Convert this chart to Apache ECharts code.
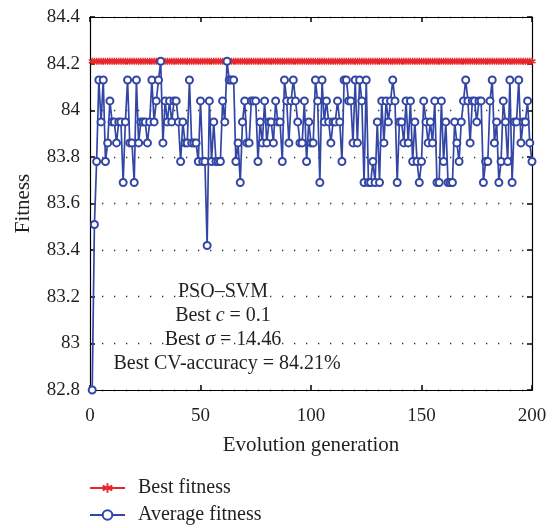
<!DOCTYPE html>
<html>
<head>
<meta charset="utf-8">
<script src="https://cdn.jsdelivr.net/npm/echarts@6/dist/echarts.min.js"></script>
<style>
  html, body { margin: 0; padding: 0; background: #fff; }
  #chart { width: 552px; height: 528px; }
</style>
</head>
<body>
<div id="chart"></div>
<script>
// Generations 1..200
const generations = Array.from({ length: 200 }, (_, i) => i + 1);

// Best fitness per generation (constant after the first generation)
const bestFitness = generations.map(() => 84.21);

// Average fitness per generation
const averageFitness = [
  82.80, 83.51, 83.78, 84.13, 83.95, 84.13, 83.78, 83.86, 84.04, 83.95,
  83.95, 83.86, 83.95, 83.95, 83.69, 83.95, 84.13, 83.86, 83.86, 83.69,
  84.13, 83.86, 83.95, 83.95, 83.95, 83.86, 83.95, 84.13, 83.95, 84.04,
  84.13, 84.21, 83.86, 84.04, 83.95, 84.04, 83.95, 84.04, 84.04, 83.95,
  83.78, 83.95, 83.86, 83.86, 84.13, 83.86, 83.86, 83.86, 83.78, 84.04,
  83.78, 83.78, 83.42, 84.04, 83.78, 83.95, 83.78, 83.78, 83.78, 84.04,
  83.95, 84.21, 84.13, 84.13, 84.13, 83.78, 83.86, 83.69, 83.95, 84.04,
  83.86, 83.86, 84.04, 84.04, 84.04, 83.78, 83.95, 83.86, 84.04, 83.86,
  83.95, 83.95, 83.86, 84.04, 83.95, 83.95, 83.78, 84.13, 84.04, 83.86,
  84.04, 84.13, 84.04, 83.95, 83.86, 83.86, 84.04, 83.78, 83.95, 83.86,
  83.86, 84.13, 84.04, 83.69, 84.13, 83.95, 84.04, 83.95, 83.86, 83.95,
  83.95, 84.04, 83.95, 83.78, 84.13, 84.13, 84.04, 84.04, 83.86, 84.13,
  83.86, 84.13, 84.04, 83.69, 84.13, 83.69, 83.69, 83.78, 83.69, 83.95,
  83.69, 84.04, 83.86, 84.04, 83.95, 84.04, 84.13, 84.04, 83.69, 83.95,
  83.95, 83.86, 84.04, 83.86, 84.04, 83.78, 83.95, 83.78, 83.69, 83.78,
  84.04, 83.95, 83.86, 83.95, 83.86, 84.04, 83.69, 83.69, 84.04, 83.78,
  83.95, 83.69, 83.69, 83.69, 83.95, 83.86, 83.78, 83.95, 84.04, 84.13,
  84.04, 83.86, 84.04, 84.04, 83.95, 84.04, 84.04, 83.69, 83.78, 83.78,
  84.04, 84.13, 83.86, 83.95, 83.69, 83.78, 84.04, 83.95, 83.78, 84.13,
  83.69, 83.95, 83.95, 84.13, 83.86, 83.95, 83.95, 84.04, 83.86, 83.78
];

const xTicks = [0, 50, 100, 150, 200];
const yTicks = [82.8, 83, 83.2, 83.4, 83.6, 83.8, 84, 84.2, 84.4];

const serif = '"Liberation Serif", "DejaVu Serif", serif';
const INK = '#231f20';
const RED = '#e8262b';
const BLUE = '#3346a6';
const asterisk = 'path://M0,-5L0,5M-4.33,-2.5L4.33,2.5M-4.33,2.5L4.33,-2.5';

const chart = echarts.init(document.getElementById('chart'), null, { renderer: 'canvas' });

const baseX = {
  type: 'value', min: xTicks[0], max: xTicks[xTicks.length - 1], interval: 50,
  axisLine: { show: true, onZero: false, lineStyle: { color: '#000', width: 1.2 } },
  axisTick: { show: true, inside: true, length: 5, lineStyle: { color: '#000', width: 1.5 } },
  splitLine: { show: false }
};
const baseY = {
  type: 'value', min: yTicks[0], max: yTicks[yTicks.length - 1], interval: 0.2,
  axisLine: { show: true, onZero: false, lineStyle: { color: '#000', width: 1.2 } },
  axisTick: { show: true, inside: true, length: 5, lineStyle: { color: '#000', width: 1.5 } }
};

const italic = { fontFamily: serif, fontSize: 20, fontStyle: 'italic', fill: INK };
function note(x, y, text) {
  return {
    type: 'text', x: x, y: y, z: 10,
    style: { text: text, font: '20px ' + serif, fill: INK, align: 'center', verticalAlign: 'middle', rich: { i: italic } }
  };
}

chart.setOption({
  animation: false,
  backgroundColor: '#fff',
  grid: { left: 90, right: 20, top: 17, bottom: 138, containLabel: false, outerBoundsMode: 'none' },
  xAxis: [
    Object.assign({}, baseX, {
      position: 'bottom',
      name: 'Evolution generation', nameLocation: 'middle', nameGap: 45,
      nameTextStyle: { fontFamily: serif, fontSize: 21, color: INK },
      axisLabel: { fontFamily: serif, fontSize: 19, color: INK, margin: 17 }
    }),
    Object.assign({}, baseX, { position: 'top', axisLabel: { show: false } })
  ],
  yAxis: [
    Object.assign({}, baseY, {
      position: 'left',
      name: 'Fitness', nameLocation: 'middle', nameGap: 56, nameRotate: 90,
      nameTextStyle: { fontFamily: serif, fontSize: 21, color: INK },
      axisLabel: { fontFamily: serif, fontSize: 19, color: INK, margin: 10 },
      splitLine: { show: true, lineStyle: { color: '#333', width: 1.3, type: [1.3, 10.7] } }
    }),
    Object.assign({}, baseY, { position: 'right', axisLabel: { show: false }, splitLine: { show: false } })
  ],
  legend: {
    orient: 'vertical', left: 89, top: 478, padding: 0, itemGap: 7,
    itemWidth: 35, itemHeight: 12,
    textStyle: { fontFamily: serif, fontSize: 20, color: INK, padding: [0, 0, 0, 8] },
    data: ['Best fitness', 'Average fitness']
  },
  series: [
    {
      name: 'Best fitness', type: 'line', z: 3,
      data: generations.map((g, i) => [g, bestFitness[i]]),
      symbol: asterisk, symbolSize: 7,
      itemStyle: { color: RED, borderColor: RED, borderWidth: 1.4 },
      lineStyle: { color: RED, width: 2.5 }
    },
    {
      name: 'Average fitness', type: 'line', z: 4,
      data: generations.map((g, i) => [g, averageFitness[i]]),
      symbol: 'emptyCircle', symbolSize: 7,
      itemStyle: { color: BLUE, borderColor: BLUE, borderWidth: 1.5 },
      lineStyle: { color: BLUE, width: 1.7 }
    }
  ],
  graphic: [
    note(223, 292, 'PSO–SVM'),
    note(223, 316, 'Best {i|c} = 0.1'),
    note(223, 340, 'Best {i|σ} = 14.46'),
    note(227, 364, 'Best CV-accuracy = 84.21%')
  ]
});
</script>
</body>
</html>
